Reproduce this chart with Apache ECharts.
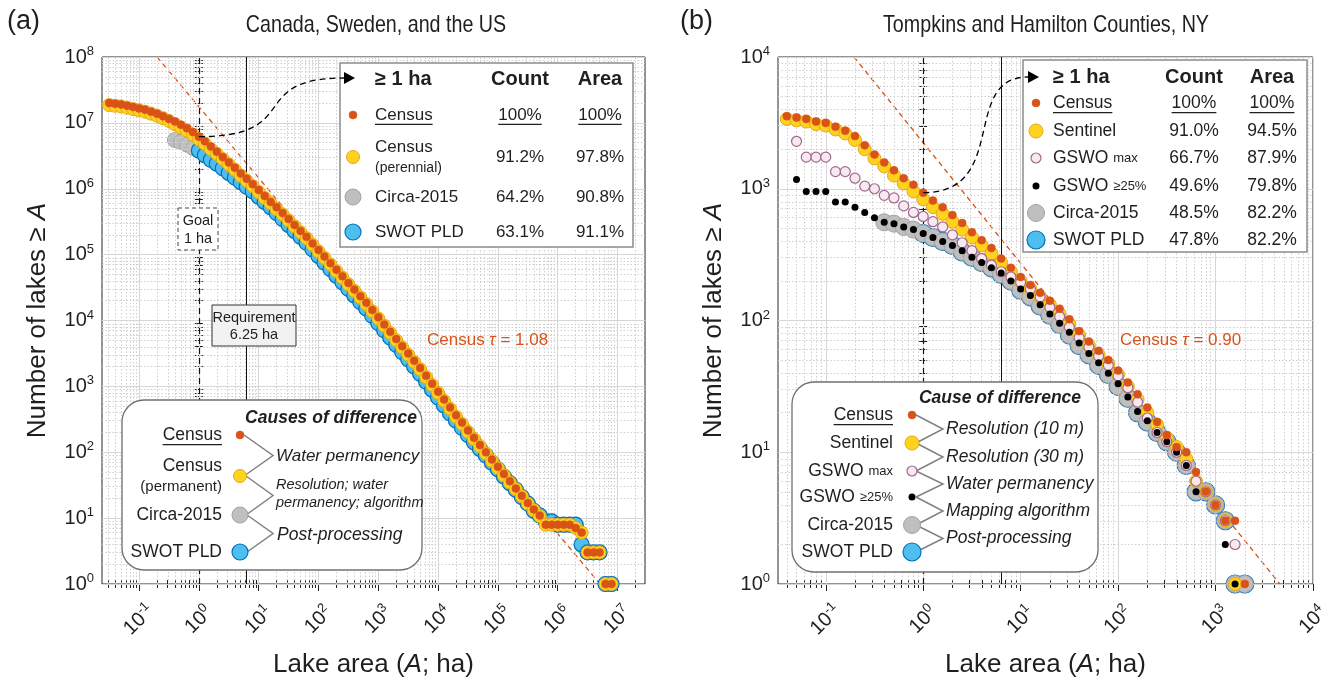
<!DOCTYPE html>
<html>
<head>
<meta charset="utf-8">
<script src="https://cdn.jsdelivr.net/npm/echarts@6.0.0/dist/echarts.min.js"></script>
<style>
    html, body { margin: 0; padding: 0; background: #fff; }
    #chart { width: 1336px; height: 690px; }
</style>
</head>
<body>
<div id="chart"></div>
<script>
// values are log10 of lake area (ha) and log10 of number of lakes >= area
// panel (a): Canada, Sweden and the US
const leftLogArea = [-1.5, -1.4, -1.3, -1.2, -1.1, -1.0, -0.9, -0.8, -0.7, -0.6, -0.5, -0.4, -0.3, -0.2, -0.1,
    0.0, 0.1, 0.2, 0.3, 0.4, 0.5, 0.6, 0.7, 0.8, 0.9, 1.0, 1.1, 1.2, 1.3, 1.4, 1.5, 1.6, 1.7, 1.8, 1.9,
    2.0, 2.1, 2.2, 2.3, 2.4, 2.5, 2.6, 2.7, 2.8, 2.9, 3.0, 3.1, 3.2, 3.3, 3.4, 3.5, 3.6, 3.7, 3.8, 3.9,
    4.0, 4.1, 4.2, 4.3, 4.4, 4.5, 4.6, 4.7, 4.8, 4.9, 5.0, 5.1, 5.2, 5.3, 5.4, 5.5, 5.6, 5.7, 5.8, 5.9,
    6.0, 6.1, 6.2, 6.3, 6.4, 6.5, 6.6, 6.7, 6.8, 6.9];
const censusA = [7.30, 7.29, 7.28, 7.26, 7.24, 7.22, 7.20, 7.17, 7.14, 7.10, 7.06, 7.02, 6.97, 6.92, 6.86,
    6.79, 6.72, 6.64, 6.56, 6.48, 6.40, 6.32, 6.23, 6.15, 6.07, 5.98, 5.89, 5.80, 5.72, 5.63, 5.54, 5.45, 5.36, 5.27, 5.17,
    5.07, 4.97, 4.87, 4.77, 4.67, 4.57, 4.47, 4.37, 4.27, 4.16, 4.05, 3.94, 3.83, 3.72, 3.61, 3.50, 3.39, 3.28, 3.16, 3.04,
    2.92, 2.80, 2.68, 2.56, 2.45, 2.33, 2.22, 2.11, 2.00, 1.89, 1.78, 1.67, 1.56, 1.45, 1.34, 1.23, 1.13, 1.04, 0.90, 0.90,
    0.90, 0.90, 0.90, 0.85, 0.78, 0.48, 0.48, 0.48, 0, 0];
const perennialA = [7.27, 7.26, 7.25, 7.23, 7.21, 7.19, 7.17, 7.14, 7.11, 7.07, 7.03, 6.98, 6.93, 6.88, 6.82,
    6.75, 6.68, 6.60, 6.53, 6.45, 6.37, 6.29, 6.20, 6.12, 6.04, 5.95, 5.86, 5.78, 5.69, 5.61, 5.52, 5.43, 5.34, 5.25, 5.15,
    5.05, 4.95, 4.85, 4.75, 4.65, 4.55, 4.45, 4.35, 4.25, 4.14, 4.03, 3.92, 3.81, 3.70, 3.59, 3.48, 3.37, 3.26, 3.14, 3.02,
    2.90, 2.78, 2.66, 2.54, 2.43, 2.31, 2.20, 2.09, 1.98, 1.87, 1.76, 1.65, 1.54, 1.44, 1.33, 1.22, 1.12, 1.03, 0.90, 0.90,
    0.90, 0.90, 0.90, 0.85, 0.78, 0.48, 0.48, 0.48, 0, 0];
const circaA = [null, null, null, null, null, null, null, null, null, null, null, 6.74, 6.71, 6.67, 6.62,
    6.58, 6.51, 6.44, 6.38, 6.31, 6.24, 6.17, 6.10, 6.03, 5.96, 5.88, 5.80, 5.72, 5.63, 5.54, 5.45, 5.36, 5.27, 5.18, 5.08,
    4.98, 4.88, 4.78, 4.68, 4.58, 4.48, 4.38, 4.28, 4.18, 4.07, 3.96, 3.85, 3.74, 3.63, 3.52, 3.41, 3.30, 3.19, 3.07, 2.95,
    2.83, 2.71, 2.59, 2.48, 2.37, 2.26, 2.15, 2.05, 1.95, 1.84, 1.74, 1.63, 1.53, 1.43, 1.32, 1.22, 1.11, 1.04, 0.95, 0.95,
    0.90, 0.90, 0.90, 0.90, 0.60, 0.48, 0.48, 0.48, 0, 0];
const swotA = [null, null, null, null, null, null, null, null, null, null, null, null, null, null, null,
    6.58, 6.51, 6.44, 6.38, 6.31, 6.24, 6.17, 6.10, 6.03, 5.96, 5.88, 5.80, 5.72, 5.63, 5.54, 5.45, 5.36, 5.27, 5.18, 5.08,
    4.98, 4.88, 4.78, 4.68, 4.58, 4.48, 4.38, 4.28, 4.18, 4.07, 3.96, 3.85, 3.74, 3.63, 3.52, 3.41, 3.30, 3.19, 3.07, 2.95,
    2.83, 2.71, 2.59, 2.48, 2.37, 2.26, 2.15, 2.05, 1.95, 1.84, 1.74, 1.63, 1.53, 1.43, 1.32, 1.22, 1.11, 1.04, 0.95, 0.95,
    0.90, 0.90, 0.90, 0.90, 0.60, 0.48, 0.48, 0.48, 0, 0];
// power-law fit, panel (a): area (ha) and count at its two ends
const tauAArea = [0.2, 5.1e6];
const tauACount = [1e8, 1];

// panel (b): Tompkins and Hamilton Counties, NY
const rightLogArea = [-1.4, -1.3, -1.2, -1.1, -1.0, -0.9, -0.8, -0.7, -0.6, -0.5, -0.4, -0.3, -0.2, -0.1,
    0.0, 0.1, 0.2, 0.3, 0.4, 0.5, 0.6, 0.7, 0.8, 0.9, 1.0, 1.1, 1.2, 1.3, 1.4, 1.5, 1.6, 1.7, 1.8, 1.9,
    2.0, 2.1, 2.2, 2.3, 2.4, 2.5, 2.6, 2.7, 2.8, 2.9, 3.0, 3.1, 3.2, 3.3];
const censusB = [3.55, 3.54, 3.53, 3.51, 3.50, 3.47, 3.44, 3.40, 3.33, 3.26, 3.20, 3.14, 3.08, 3.03,
    2.97, 2.91, 2.86, 2.80, 2.74, 2.67, 2.61, 2.55, 2.47, 2.40, 2.33, 2.27, 2.21, 2.15, 2.09, 2.01, 1.92, 1.84, 1.77, 1.70,
    1.62, 1.53, 1.44, 1.34, 1.23, 1.13, 1.04, 1.00, 0.85, 0.70, 0.60, 0.48, 0.48, 0];
const sentinelB = [3.53, 3.52, 3.51, 3.49, 3.48, 3.45, 3.42, 3.37, 3.30, 3.23, 3.17, 3.10, 3.04, 2.98,
    2.92, 2.86, 2.81, 2.75, 2.69, 2.63, 2.57, 2.51, 2.44, 2.37, 2.30, 2.24, 2.18, 2.12, 2.05, 1.97, 1.89, 1.81, 1.74, 1.67,
    1.59, 1.50, 1.40, 1.30, 1.21, 1.11, 1.04, 0.95, 0.78, 0.70, 0.60, 0.48, 0, null];
const gswoMaxB = [null, 3.36, 3.24, 3.24, 3.24, 3.13, 3.13, 3.08, 3.02, 3.00, 2.95, 2.93, 2.87, 2.82,
    2.79, 2.75, 2.71, 2.65, 2.59, 2.53, 2.47, 2.42, 2.37, 2.33, 2.29, 2.24, 2.18, 2.10, 2.03, 1.95, 1.87, 1.80, 1.73, 1.66,
    1.58, 1.49, 1.38, 1.26, 1.15, 1.08, 1.00, 0.90, 0.78, 0.70, 0.60, 0.48, 0.30, null];
const gswo25B = [null, 3.07, 2.98, 2.98, 2.98, 2.90, 2.90, 2.86, 2.82, 2.78, 2.745, 2.735, 2.71, 2.69,
    2.66, 2.63, 2.60, 2.57, 2.53, 2.48, 2.44, 2.40, 2.36, 2.30, 2.24, 2.19, 2.12, 2.05, 1.98, 1.91, 1.83, 1.75, 1.68, 1.60,
    1.52, 1.42, 1.31, 1.24, 1.15, 1.08, 1.00, 0.90, 0.70, 0.70, 0.60, 0.30, 0, null];
const circaB = [null, null, null, null, null, null, null, null, null, null, 2.745, 2.735, 2.71, 2.69,
    2.66, 2.63, 2.60, 2.57, 2.52, 2.48, 2.44, 2.40, 2.35, 2.30, 2.23, 2.18, 2.11, 2.04, 1.97, 1.89, 1.81, 1.74, 1.66, 1.59,
    1.50, 1.41, 1.30, 1.23, 1.15, 1.08, 1.00, 0.90, 0.70, 0.70, 0.60, 0.48, 0, 0];
const swotB = [null, null, null, null, null, null, null, null, null, null, null, null, null, null,
    2.66, 2.63, 2.60, 2.57, 2.52, 2.48, 2.44, 2.40, 2.35, 2.30, 2.23, 2.18, 2.11, 2.04, 1.97, 1.89, 1.81, 1.74, 1.66, 1.59,
    1.50, 1.41, 1.30, 1.23, 1.15, 1.08, 1.00, 0.90, 0.70, 0.70, 0.60, 0.48, 0, 0];
const tauBArea = [0.195, 4570];
const tauBCount = [1e4, 1];

// legend tables (share of census, lakes >= 1 ha)
const tableACount = ['100%', '91.2%', '64.2%', '63.1%'];
const tableAArea = ['100%', '97.8%', '90.8%', '91.1%'];
const tableBCount = ['100%', '91.0%', '66.7%', '49.6%', '48.5%', '47.8%'];
const tableBArea = ['100%', '94.5%', '87.9%', '79.8%', '82.2%', '82.2%'];

const FONT = '"Liberation Sans", Arial, Helvetica, sans-serif';
const INK = '#1f1f1f';
const ORANGE = '#D95319';

const sty = {
    census: {color: ORANGE, borderColor: ORANGE, borderWidth: 0.5, opacity: 1},
    yellow: {color: '#FFD21E', borderColor: '#E6A817', borderWidth: 1, opacity: 1},
    gray: {color: '#BFBFBF', borderColor: '#A3A3A3', borderWidth: 1, opacity: 1},
    blue: {color: '#4DBEEE', borderColor: '#0072BD', borderWidth: 1.2, opacity: 1},
    pink: {color: '#F7E9F0', borderColor: '#A2688E', borderWidth: 1.2, opacity: 1},
    black: {color: '#000', borderColor: '#000', borderWidth: 0, opacity: 1},
};

const panels = [
    {left: 102, right: 691, top: 57, bottom: 106, xMin: -1.62, xMax: 7.46, yMin: 0, yMax: 8, cx: 376},
    {left: 778, right: 23, top: 57, bottom: 106, xMin: -1.49, xMax: 4, yMin: 0, yMax: 4, cx: 1046},
];

function intsBetween(lo, hi) {
    const out = [];
    for (let v = Math.ceil(lo); v <= Math.floor(hi); v++) out.push(v);
    return out;
}

function minorsBetween(lo, hi) {
    const out = [];
    for (let d = Math.floor(lo); d <= Math.ceil(hi); d++) {
        for (let k = 2; k <= 9; k++) {
            const v = d + Math.log10(k);
            if (v > lo && v < hi) out.push(v);
        }
    }
    return out;
}

const powRich = {
    b: {fontFamily: FONT, fontSize: 20, color: INK, lineHeight: 24},
    s: {fontFamily: FONT, fontSize: 13, color: INK, verticalAlign: 'top', lineHeight: 13},
};

function powLabel(v) {
    return '{b|10}{s|' + Math.round(v) + '}';
}

function tickStyle(values, len) {
    return {show: true, inside: true, length: len, customValues: values, lineStyle: {color: INK, width: 1}};
}

const nameStyle = {
    fontFamily: FONT, fontSize: 26, color: INK,
    rich: {i: {fontFamily: FONT, fontSize: 26, fontStyle: 'italic', color: INK}},
};

function axesFor(gi, p) {
    const xm = intsBetween(p.xMin, p.xMax), xn = minorsBetween(p.xMin, p.xMax);
    const ym = intsBetween(p.yMin, p.yMax), yn = minorsBetween(p.yMin, p.yMax);
    const bx = {gridIndex: gi, type: 'value', min: p.xMin, max: p.xMax, axisLine: {show: false}, splitLine: {show: false}};
    const by = {gridIndex: gi, type: 'value', min: p.yMin, max: p.yMax, axisLine: {show: false}, splitLine: {show: false}};
    const x = [
        Object.assign({}, bx, {
            position: 'bottom', axisTick: tickStyle(xm, 7),
            axisLabel: {
                customValues: xm, rotate: 45, margin: 36, align: 'center', verticalAlign: 'middle',
                formatter: powLabel, rich: powRich,
            },
            name: 'Lake area ({i|A}; ha)', nameLocation: 'middle', nameGap: 68, nameTextStyle: nameStyle,
        }),
        Object.assign({}, bx, {position: 'bottom', axisTick: tickStyle(xn, 4), axisLabel: {show: false}}),
        Object.assign({}, bx, {position: 'top', axisTick: tickStyle(xm, 7), axisLabel: {show: false}}),
        Object.assign({}, bx, {position: 'top', axisTick: tickStyle(xn, 4), axisLabel: {show: false}}),
    ];
    const y = [
        Object.assign({}, by, {
            position: 'left', axisTick: tickStyle(ym, 7),
            axisLabel: {customValues: ym, margin: 8, formatter: powLabel, rich: powRich},
            name: 'Number of lakes \u2265 {i|A}', nameLocation: 'middle', nameGap: 51, nameTextStyle: nameStyle,
        }),
        Object.assign({}, by, {position: 'left', axisTick: tickStyle(yn, 4), axisLabel: {show: false}}),
        Object.assign({}, by, {position: 'right', axisTick: tickStyle(ym, 7), axisLabel: {show: false}}),
        Object.assign({}, by, {position: 'right', axisTick: tickStyle(yn, 4), axisLabel: {show: false}}),
    ];
    return {x, y};
}

const majorGrid = {color: '#d6d6d6', width: 1, type: 'solid'};
const minorGrid = {color: '#cfcfcf', width: 1, type: [1.5, 2]};

function gridLines(gi, p) {
    const items = [];
    intsBetween(p.xMin, p.xMax).forEach(v => items.push({xAxis: v, lineStyle: majorGrid}));
    minorsBetween(p.xMin, p.xMax).forEach(v => items.push({xAxis: v, lineStyle: minorGrid}));
    intsBetween(p.yMin, p.yMax).forEach(v => items.push({yAxis: v, lineStyle: majorGrid}));
    minorsBetween(p.yMin, p.yMax).forEach(v => items.push({yAxis: v, lineStyle: minorGrid}));
    // goal (1 ha) and requirement (6.25 ha)
    items.push({xAxis: 0, lineStyle: {color: '#111', width: 1.2, type: [6, 4]}});
    items.push({xAxis: Math.log10(6.25), lineStyle: {color: '#111', width: 1, type: 'solid'}});
    return {
        type: 'scatter', xAxisIndex: gi * 4, yAxisIndex: gi * 4, data: [], silent: true, z: 1,
        markLine: {silent: true, symbol: 'none', animation: false, label: {show: false}, data: items},
    };
}

function dots(gi, xs, ys, size, style, z) {
    const data = [];
    xs.forEach((x, i) => {
        if (ys[i] != null) data.push([x, ys[i]]);
    });
    return {
        type: 'scatter', xAxisIndex: gi * 4, yAxisIndex: gi * 4, data, symbol: 'circle',
        symbolSize: size, itemStyle: style, z, silent: true, animation: false,
    };
}

function tauLine(gi, areas, counts) {
    return {
        type: 'line', xAxisIndex: gi * 4, yAxisIndex: gi * 4, showSymbol: false, silent: true, z: 3,
        data: areas.map((a, i) => [Math.log10(a), Math.log10(counts[i])]),
        lineStyle: {color: ORANGE, width: 1.3, type: [5, 4]},
    };
}

const axA = axesFor(0, panels[0]);
const axB = axesFor(1, panels[1]);

const chart = echarts.init(document.getElementById('chart'));
chart.setOption({
    animation: false,
    backgroundColor: '#fff',
    grid: panels.map(p => ({
        left: p.left, right: p.right, top: p.top, bottom: p.bottom, containLabel: false, outerBoundsMode: 'none',
        show: true, borderColor: '#262626', borderWidth: 1, backgroundColor: '#fff',
    })),
    xAxis: axA.x.concat(axB.x),
    yAxis: axA.y.concat(axB.y),
    series: [
        gridLines(0, panels[0]),
        tauLine(0, tauAArea, tauACount),
        dots(0, leftLogArea, circaA, 15, sty.gray, 4),
        dots(0, leftLogArea, swotA, 15, sty.blue, 5),
        dots(0, leftLogArea, perennialA, 13, sty.yellow, 6),
        dots(0, leftLogArea, censusA, 8, sty.census, 7),

        gridLines(1, panels[1]),
        tauLine(1, tauBArea, tauBCount),
        dots(1, rightLogArea, swotB, 18, sty.blue, 4),
        dots(1, rightLogArea, circaB, 17, sty.gray, 5),
        dots(1, rightLogArea, sentinelB, 13, sty.yellow, 6),
        dots(1, rightLogArea, gswoMaxB, 10, sty.pink, 7),
        dots(1, rightLogArea, gswo25B, 7, sty.black, 8),
        dots(1, rightLogArea, censusB, 8, sty.census, 9),
    ],
});

// ---- annotations ----
const measure = document.createElement('canvas').getContext('2d');

function textWidth(text, size, weight) {
    measure.font = (weight || 'normal') + ' ' + size + 'px ' + FONT;
    return measure.measureText(text).width;
}

const g = [];

function txt(x, y, text, size, extra, scaleX) {
    g.push({
        type: 'text', x, y, z: 100, scaleX: scaleX || 1,
        style: Object.assign({text, fontFamily: FONT, fontSize: size, fill: INK, align: 'left', verticalAlign: 'middle'}, extra || {}),
    });
}

function under(x, y, text, size, align) {
    const w = textWidth(text, size);
    const x0 = align === 'center' ? x - w / 2 : (align === 'right' ? x - w : x);
    g.push({type: 'line', z: 100, shape: {x1: x0, y1: y + size * 0.55, x2: x0 + w, y2: y + size * 0.55}, style: {stroke: INK, lineWidth: 1.2}});
}

function dot(cx, cy, r, s) {
    g.push({type: 'circle', z: 101, shape: {cx, cy, r}, style: {fill: s.color, stroke: s.borderWidth ? s.borderColor : null, lineWidth: s.borderWidth}});
}

function box(x, y, w, h, style, r) {
    g.push({type: 'rect', z: 99, shape: {x, y, width: w, height: h, r: r || 0}, style});
}

function bracket(x0, ya, yb, xv) {
    g.push({type: 'polyline', z: 100, shape: {points: [[x0, ya], [xv, (ya + yb) / 2], [x0, yb]]}, style: {stroke: '#808080', lineWidth: 1.5, fill: null}});
}

function arrow(p0, p1, cp1, cp2) {
    g.push({
        type: 'bezierCurve', z: 100,
        shape: {x1: p0[0], y1: p0[1], x2: p1[0], y2: p1[1], cpx1: cp1[0], cpy1: cp1[1], cpx2: cp2[0], cpy2: cp2[1]},
        style: {stroke: '#000', lineWidth: 1.3, lineDash: [6, 4], fill: null},
    });
    g.push({type: 'polygon', z: 101, shape: {points: [[p1[0], p1[1] - 6], [p1[0], p1[1] + 6], [p1[0] + 11, p1[1]]]}, style: {fill: '#000'}});
}

// titles
txt(7, 22, '(a)', 27);
txt(panels[0].cx, 25, 'Canada, Sweden, and the US', 24, {align: 'center'}, 0.82);
txt(680, 22, '(b)', 27);
txt(panels[1].cx, 25, 'Tompkins and Hamilton Counties, NY', 24, {align: 'center'}, 0.82);

// panel (a) annotations
const startA = chart.convertToPixel({xAxisIndex: 0, yAxisIndex: 0}, [0, censusA[leftLogArea.indexOf(0)]]);
box(340, 63, 293, 184, {fill: '#fff', stroke: '#8c8c8c', lineWidth: 1.5});
arrow([startA[0], startA[1]], [344, 78], [305, startA[1]], [245, 78]);
txt(375, 79, '\u2265 1 ha', 20, {fontWeight: 'bold'});
txt(520, 79, 'Count', 20, {fontWeight: 'bold', align: 'center'});
txt(600, 79, 'Area', 20, {fontWeight: 'bold', align: 'center'});
const rowA = [115, 157, 197, 232];
dot(353, rowA[0], 4, sty.census);
dot(353, rowA[1], 6.5, sty.yellow);
dot(353, rowA[2], 8, sty.gray);
dot(353, rowA[3], 8, sty.blue);
txt(375, rowA[0], 'Census', 17);
under(375, rowA[0], 'Census', 17, 'left');
txt(375, 147, 'Census', 17);
txt(375, 168, '(perennial)', 14);
txt(375, rowA[2], 'Circa-2015', 17);
txt(375, rowA[3], 'SWOT PLD', 17);
rowA.forEach((y, i) => {
    txt(520, y, tableACount[i], 17, {align: 'center'});
    txt(600, y, tableAArea[i], 17, {align: 'center'});
});
under(520, rowA[0], tableACount[0], 17, 'center');
under(600, rowA[0], tableAArea[0], 17, 'center');

box(178, 208, 40, 42, {fill: '#fff', stroke: '#444', lineWidth: 1, lineDash: [4, 3]});
txt(198, 221, 'Goal', 14.5, {align: 'center'});
txt(198, 239, '1 ha', 14.5, {align: 'center'});
box(212, 305, 84, 41, {fill: '#f2f2f2', stroke: '#333', lineWidth: 1});
txt(254, 318, 'Requirement', 14.5, {align: 'center'});
txt(254, 335, '6.25 ha', 14.5, {align: 'center'});

txt(427, 340, 'Census {t|\u03c4} = 1.08', 17, {fill: ORANGE, rich: {t: {fontFamily: FONT, fontSize: 17, fontStyle: 'italic', fill: ORANGE}}});

box(122, 400, 300, 170, {fill: '#fff', stroke: '#707070', lineWidth: 1.3}, 22);
txt(331, 418, 'Causes of difference', 17.5, {fontWeight: 'bold', fontStyle: 'italic', align: 'center'});
const causeA = [435, 476, 515, 552];
txt(222, causeA[0], 'Census', 17.5, {align: 'right'});
under(222, causeA[0], 'Census', 17.5, 'right');
txt(222, 466, 'Census', 17.5, {align: 'right'});
txt(222, 487, '(permanent)', 15, {align: 'right'});
txt(222, causeA[2], 'Circa-2015', 17.5, {align: 'right'});
txt(222, causeA[3], 'SWOT PLD', 17.5, {align: 'right'});
bracket(244, causeA[0], causeA[1], 273);
bracket(246, causeA[1], causeA[2], 273);
bracket(247, causeA[2], causeA[3], 273);
dot(240, causeA[0], 4, sty.census);
dot(240, causeA[1], 6.5, sty.yellow);
dot(240, causeA[2], 8, sty.gray);
dot(240, causeA[3], 8, sty.blue);
const itc = {fontStyle: 'italic'};
txt(276, 456, 'Water permanency', 17, itc);
txt(276, 485, 'Resolution; water', 14.5, itc);
txt(276, 503, 'permanency; algorithm', 14.5, itc);
txt(277, 535, 'Post-processing', 17.5, itc);

// panel (b) annotations
const startB = chart.convertToPixel({xAxisIndex: 4, yAxisIndex: 4}, [0, censusB[rightLogArea.indexOf(0)]]);
box(1023, 60, 284, 192, {fill: '#fff', stroke: '#8c8c8c', lineWidth: 1.5});
arrow([startB[0], startB[1]], [1028, 77], [1010, startB[1]], [960, 77]);
txt(1053, 77, '\u2265 1 ha', 20, {fontWeight: 'bold'});
txt(1194, 77, 'Count', 20, {fontWeight: 'bold', align: 'center'});
txt(1272, 77, 'Area', 20, {fontWeight: 'bold', align: 'center'});
const rowB = [103, 131, 158, 186, 213, 240];
const smallRich = {s: {fontFamily: FONT, fontSize: 13, fill: INK}};
const namesB = ['Census', 'Sentinel', 'GSWO {s|max}', 'GSWO {s|\u226525%}', 'Circa-2015', 'SWOT PLD'];
const symB = [[4, sty.census], [7, sty.yellow], [5, sty.pink], [3.5, sty.black], [8.5, sty.gray], [9, sty.blue]];
rowB.forEach((y, i) => {
    dot(1036, y, symB[i][0], symB[i][1]);
    txt(1053, y, namesB[i], 17.5, {rich: smallRich});
    txt(1194, y, tableBCount[i], 17.5, {align: 'center'});
    txt(1272, y, tableBArea[i], 17.5, {align: 'center'});
});
under(1053, rowB[0], 'Census', 17.5, 'left');
under(1194, rowB[0], tableBCount[0], 17.5, 'center');
under(1272, rowB[0], tableBArea[0], 17.5, 'center');

txt(1120, 340, 'Census {t|\u03c4} = 0.90', 17, {fill: ORANGE, rich: {t: {fontFamily: FONT, fontSize: 17, fontStyle: 'italic', fill: ORANGE}}});

box(792, 382, 306, 190, {fill: '#fff', stroke: '#707070', lineWidth: 1.3}, 22);
txt(1000, 398, 'Cause of difference', 17.5, {fontWeight: 'bold', fontStyle: 'italic', align: 'center'});
const causeB = [415, 443, 471, 497, 525, 552];
causeB.forEach((y, i) => {
    txt(893, y, namesB[i], 17.5, {align: 'right', rich: smallRich});
    if (i < causeB.length - 1) bracket(916, y, causeB[i + 1], 943);
});
under(893, causeB[0], 'Census', 17.5, 'right');
causeB.forEach((y, i) => dot(912, y, symB[i][0], symB[i][1]));
const reasonsB = ['Resolution (10 m)', 'Resolution (30 m)', 'Water permanency', 'Mapping algorithm', 'Post-processing'];
reasonsB.forEach((t, i) => txt(946, (causeB[i] + causeB[i + 1]) / 2, t, 17.5, itc));

chart.setOption({graphic: {elements: g}});
</script>
</body>
</html>
